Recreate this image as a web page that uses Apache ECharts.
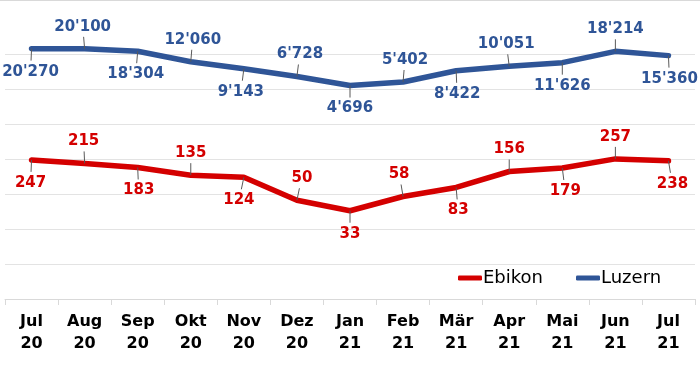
<!DOCTYPE html>
<html><head><meta charset="utf-8">
<script src="https://cdn.jsdelivr.net/npm/echarts@6/dist/echarts.min.js"></script>
<style>html,body{margin:0;padding:0;background:#fff}#c{width:700px;height:371px}</style>
</head><body><div id="c"></div>
<script>
const months = ['Jul\n20','Aug\n20','Sep\n20','Okt\n20','Nov\n20','Dez\n20','Jan\n21','Feb\n21','Mär\n21','Apr\n21','Mai\n21','Jun\n21','Jul\n21'];
const ebikon = [247,215,183,135,124,50,33,58,83,156,179,257,238];
const luzern = [20270,20100,18304,12060,9143,6728,4696,5402,8422,10051,11626,18214,15360];

// label layout (horizontal nudges of data labels, px)
const ebikonLabelDx = [-1,-1,1,0,-5,5,0,-4,2,0,3,0,4];
const luzernLabelDx = [-1,-2,-2,2,-3,3,0,2,1,-3,0,0,1];

const FONT = 'DejaVu Sans';
const RED = '#D40000', BLUE = '#2F5597';
const fmt = v => String(v).replace(/\B(?=(\d{3})+(?!\d))/g, "'");

function lineSeries(name, arr, color){
  return {
    name, type:'line', data: arr, clip:false,
    symbol:'none', showSymbol:false,
    itemStyle:{color},
    lineStyle:{color, width:5.5, cap:'round', join:'round'},
    emphasis:{disabled:true}, animation:false, z:2
  };
}
function labelSeries(name, arr, color, dxArr){
  return {
    name: name + ' labels', type:'custom', clip:false, z:3, animation:false, silent:true,
    data: arr.map((v,i)=>[i,v]),
    encode:{x:0, y:1},
    renderItem:(params, api)=>{
      const i = params.dataIndex;
      const p = api.coord([api.value(0), api.value(1)]);
      const dir = i%2===0 ? 1 : -1;   // bottom for even, top for odd
      const dx = dxArr[i];
      const txt = fmt(api.value(1));
      return {type:'group', children:[
        {type:'line', shape:{x1:p[0], y1:p[1], x2:p[0]+dx*0.5, y2:p[1]+dir*12},
         style:{stroke:'#595959', lineWidth:1}},
        {type:'text', style:{text:txt, x:p[0]+dx, y:p[1]+dir*(dir>0?23:22),
          align:'center', verticalAlign:'middle', textAlign:'center', textVerticalAlign:'middle',
          fill:color, font:'bold 15px "DejaVu Sans"'}}
      ]};
    }
  };
}
const chart = echarts.init(document.getElementById('c'), null, {renderer:'canvas'});
chart.setOption({
  animation:false,
  grid:{left:5, right:5, top:54, bottom:72},
  legend:{left:453, top:264, itemWidth:24, itemHeight:5, itemGap:33, icon:'roundRect',
    textStyle:{fontFamily:FONT, fontSize:18, color:'#000', padding:[0,0,0,-4]},
    data:['Ebikon','Luzern']},
  xAxis:{type:'category', data:months, boundaryGap:true,
    axisLine:{lineStyle:{color:'#D9D9D9', width:1}},
    axisTick:{show:true, length:6, lineStyle:{color:'#D9D9D9'}},
    axisLabel:{color:'#000', fontFamily:FONT, fontWeight:'bold', fontSize:16, lineHeight:22, margin:12, interval:0}},
  yAxis:{type:'log', logBase:4, min:1, max:16384,
    axisLine:{show:false}, axisTick:{show:false}, axisLabel:{show:false},
    splitLine:{show:true, lineStyle:{color:'#E3E3E3', width:1}}},
  graphic:[{type:'line', shape:{x1:0,y1:0.5,x2:700,y2:0.5}, style:{stroke:'#D9D9D9', lineWidth:1}}],
  series:[
    lineSeries('Ebikon', ebikon, RED),
    lineSeries('Luzern', luzern, BLUE),
    labelSeries('Ebikon', ebikon, RED, ebikonLabelDx),
    labelSeries('Luzern', luzern, BLUE, luzernLabelDx)
  ]
});
</script></body></html>
